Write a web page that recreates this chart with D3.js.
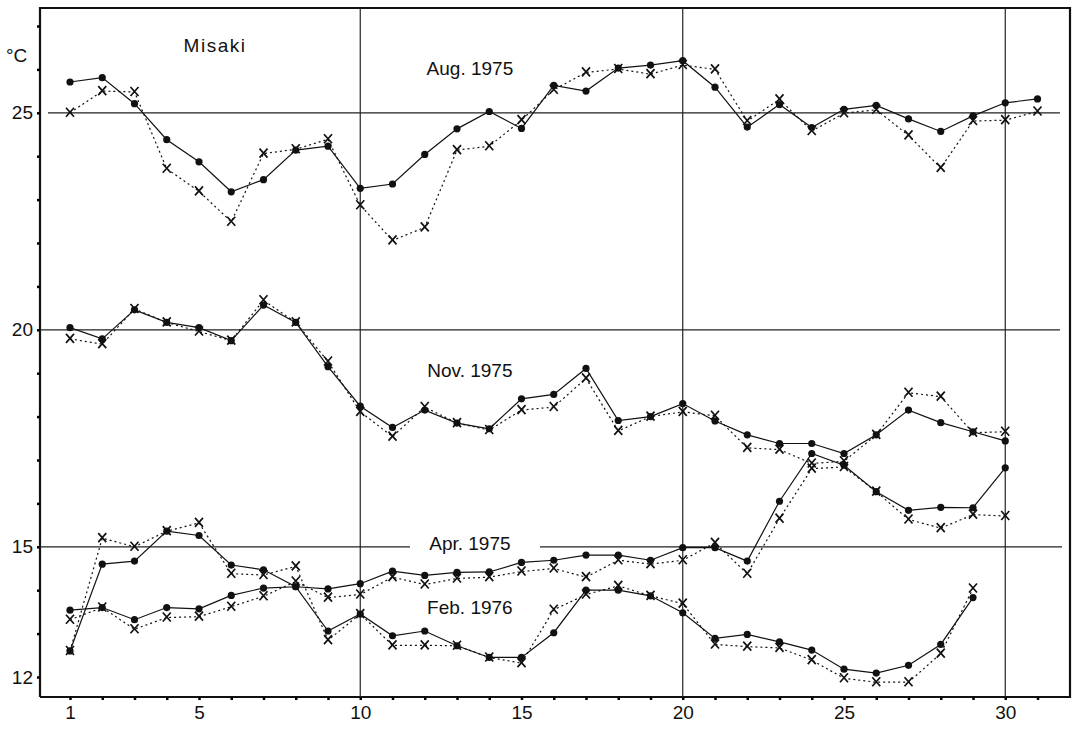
<!DOCTYPE html>
<html>
<head>
<meta charset="utf-8">
<script src="https://cdn.jsdelivr.net/npm/d3@7"></script>
<style>
  body { margin: 0; background: #fff; }
  text { font-family: "Liberation Sans", "DejaVu Sans", sans-serif; fill: #111; }
</style>
</head>
<body>
<div id="chart"></div>
<script>
// daily water temperature at Misaki, two readings per day (dots = solid, x = dotted)
var augDot = [25.71, 25.81, 25.21, 24.38, 23.87, 23.18, 23.46, 24.14, 24.23, 23.26, 23.36, 24.04, 24.63, 25.03, 24.64, 25.63, 25.50, 26.03, 26.10, 26.20, 25.59, 24.67, 25.19, 24.66, 25.08, 25.17, 24.86, 24.57, 24.93, 25.23, 25.32];
var augX   = [25.00, 25.50, 25.48, 23.71, 23.19, 22.49, 24.06, 24.16, 24.39, 22.87, 22.06, 22.36, 24.14, 24.23, 24.83, 25.53, 25.93, 26.01, 25.89, 26.10, 26.00, 24.81, 25.31, 24.58, 24.99, 25.07, 24.48, 23.73, 24.81, 24.83, 25.03];

var novDot = [20.05, 19.79, 20.46, 20.17, 20.05, 19.75, 20.57, 20.17, 19.15, 18.24, 17.75, 18.15, 17.85, 17.72, 18.41, 18.51, 19.11, 17.91, 18.00, 18.30, 17.90, 17.58, 17.38, 17.38, 17.15, 17.58, 18.15, 17.86, 17.65, 17.44];
var novX   = [19.79, 19.67, 20.48, 20.17, 19.96, 19.75, 20.68, 20.17, 19.27, 18.11, 17.54, 18.22, 17.85, 17.69, 18.15, 18.22, 18.88, 17.67, 18.00, 18.11, 18.02, 17.28, 17.24, 16.92, 16.97, 17.58, 18.55, 18.46, 17.63, 17.65];

var aprDot = [13.54, 13.60, 13.32, 13.60, 13.57, 13.88, 14.05, 14.08, 14.03, 14.15, 14.44, 14.34, 14.41, 14.42, 14.64, 14.69, 14.81, 14.81, 14.69, 14.98, 14.98, 14.67, 16.05, 17.15, 16.88, 16.27, 15.84, 15.91, 15.90, 16.82];
var aprX   = [13.32, 13.60, 13.10, 13.37, 13.39, 13.62, 13.86, 14.20, 13.83, 13.90, 14.30, 14.13, 14.27, 14.30, 14.43, 14.50, 14.30, 14.69, 14.60, 14.69, 15.09, 14.38, 15.65, 16.80, 16.84, 16.27, 15.63, 15.43, 15.74, 15.71];

var febDot = [12.60, 14.60, 14.67, 15.36, 15.26, 14.58, 14.47, 14.08, 13.06, 13.45, 12.95, 13.06, 12.72, 12.45, 12.45, 13.02, 14.00, 14.00, 13.87, 13.48, 12.89, 12.98, 12.81, 12.62, 12.18, 12.09, 12.27, 12.75, 13.83];
var febX   = [12.60, 15.20, 15.00, 15.36, 15.55, 14.38, 14.35, 14.55, 12.85, 13.45, 12.73, 12.73, 12.72, 12.45, 12.32, 13.55, 13.90, 14.10, 13.87, 13.69, 12.75, 12.70, 12.67, 12.39, 11.97, 11.88, 11.88, 12.54, 14.04];

var monthLabels = [
  {name: "Aug. 1975", day: 13.4, t: 25.87},
  {name: "Nov. 1975", day: 13.4, t: 18.91},
  {name: "Apr. 1975", day: 13.4, t: 14.93},
  {name: "Feb. 1976", day: 13.4, t: 13.45}
];
var yLabelTicks = [12, 15, 20, 25];
var xLabelTicks = [1, 5, 10, 15, 20, 25, 30];
var refTemps = [25, 20, 15];
var refDays = [10, 20, 30];

var w = 1078, h = 734;
var frameL = 40, frameR = 1070, frameT = 8, frameB = 697;

var svg = d3.select('#chart').append('svg')
    .attr('width', w)
    .attr('height', h);

var x = d3.scaleLinear().domain([1, 31]).range([70, 1037.5]);
var y = d3.scaleLinear().domain([12, 27]).range([677, 26]);

// frame
svg.append('path')
    .attr('d', 'M' + frameL + ',' + frameB + 'V' + frameT + 'H' + frameR + 'V' + frameB + 'H' + frameL)
    .attr('fill', 'none')
    .attr('stroke', '#111')
    .attr('stroke-width', 2.2);

// reference lines
refTemps.forEach(function (t) {
    var segs = t === 15 ? [[frameL, 410], [540, 1062]] : [[t === 25 ? 48 : frameL, 1060]];
    segs.forEach(function (s) {
        svg.append('line')
            .attr('x1', s[0]).attr('x2', s[1])
            .attr('y1', y(t)).attr('y2', y(t))
            .attr('stroke', '#222').attr('stroke-width', 1.2);
    });
});
refDays.forEach(function (d) {
    svg.append('line')
        .attr('x1', x(d)).attr('x2', x(d))
        .attr('y1', frameT).attr('y2', frameB)
        .attr('stroke', '#222').attr('stroke-width', 1.2);
});

// axes
var yAxis = d3.axisLeft(y)
    .tickValues(d3.range(12, 28))
    .tickSize(3)
    .tickFormat(function (d) { return yLabelTicks.indexOf(d) >= 0 ? d : ''; });
var gy = svg.append('g').attr('transform', 'translate(' + frameL + ',0)').call(yAxis);
gy.select('.domain').remove();
gy.selectAll('line').attr('stroke-width', 2.5);
gy.selectAll('text').style('font-size', '19px').attr('x', -7);

var xAxis = d3.axisBottom(x)
    .tickValues(d3.range(1, 32))
    .tickSize(3)
    .tickFormat(function (d) { return xLabelTicks.indexOf(d) >= 0 ? d : ''; });
var gx = svg.append('g').attr('transform', 'translate(0,' + frameB + ')').call(xAxis);
gx.select('.domain').remove();
gx.selectAll('line').attr('stroke-width', 2.5);
gx.selectAll('text').style('font-size', '19px').attr('y', 9);

// series
var line = d3.line()
    .x(function (d, i) { return x(i + 1); })
    .y(function (d) { return y(d); });

var dotSeries = [augDot, novDot, aprDot, febDot];
var xSeries = [augX, novX, aprX, febX];

xSeries.forEach(function (s) {
    svg.append('path')
        .attr('d', line(s))
        .attr('fill', 'none')
        .attr('stroke', '#111')
        .attr('stroke-width', 1.2)
        .attr('stroke-dasharray', '2,3');
    svg.append('g').selectAll('path')
        .data(s)
        .enter()
        .append('path')
        .attr('d', function (d, i) {
            var cx = x(i + 1), cy = y(d), r = 4;
            return 'M' + (cx - r) + ',' + (cy - r - 1) + 'L' + (cx + r) + ',' + (cy + r) +
                   'M' + (cx + r) + ',' + (cy - r - 1) + 'L' + (cx - r) + ',' + (cy + r);
        })
        .attr('stroke', '#111')
        .attr('stroke-width', 1.7)
        .attr('fill', 'none');
});

dotSeries.forEach(function (s) {
    svg.append('path')
        .attr('d', line(s))
        .attr('fill', 'none')
        .attr('stroke', '#111')
        .attr('stroke-width', 1.2);
    svg.append('g').selectAll('circle')
        .data(s)
        .enter()
        .append('circle')
        .attr('cx', function (d, i) { return x(i + 1); })
        .attr('cy', function (d) { return y(d); })
        .attr('r', 3.6)
        .attr('fill', '#111');
});

// labels
svg.append('text').text('°C').attr('x', 6).attr('y', 62).style('font-size', '19px');
svg.append('text').text('Misaki').attr('x', 215).attr('y', 52)
    .attr('text-anchor', 'middle').style('font-size', '19px').style('letter-spacing', '1.5px');
monthLabels.forEach(function (m) {
    svg.append('text').text(m.name)
        .attr('x', x(m.day)).attr('y', y(m.t))
        .attr('text-anchor', 'middle')
        .style('font-size', '19px');
});
</script>
</body>
</html>
